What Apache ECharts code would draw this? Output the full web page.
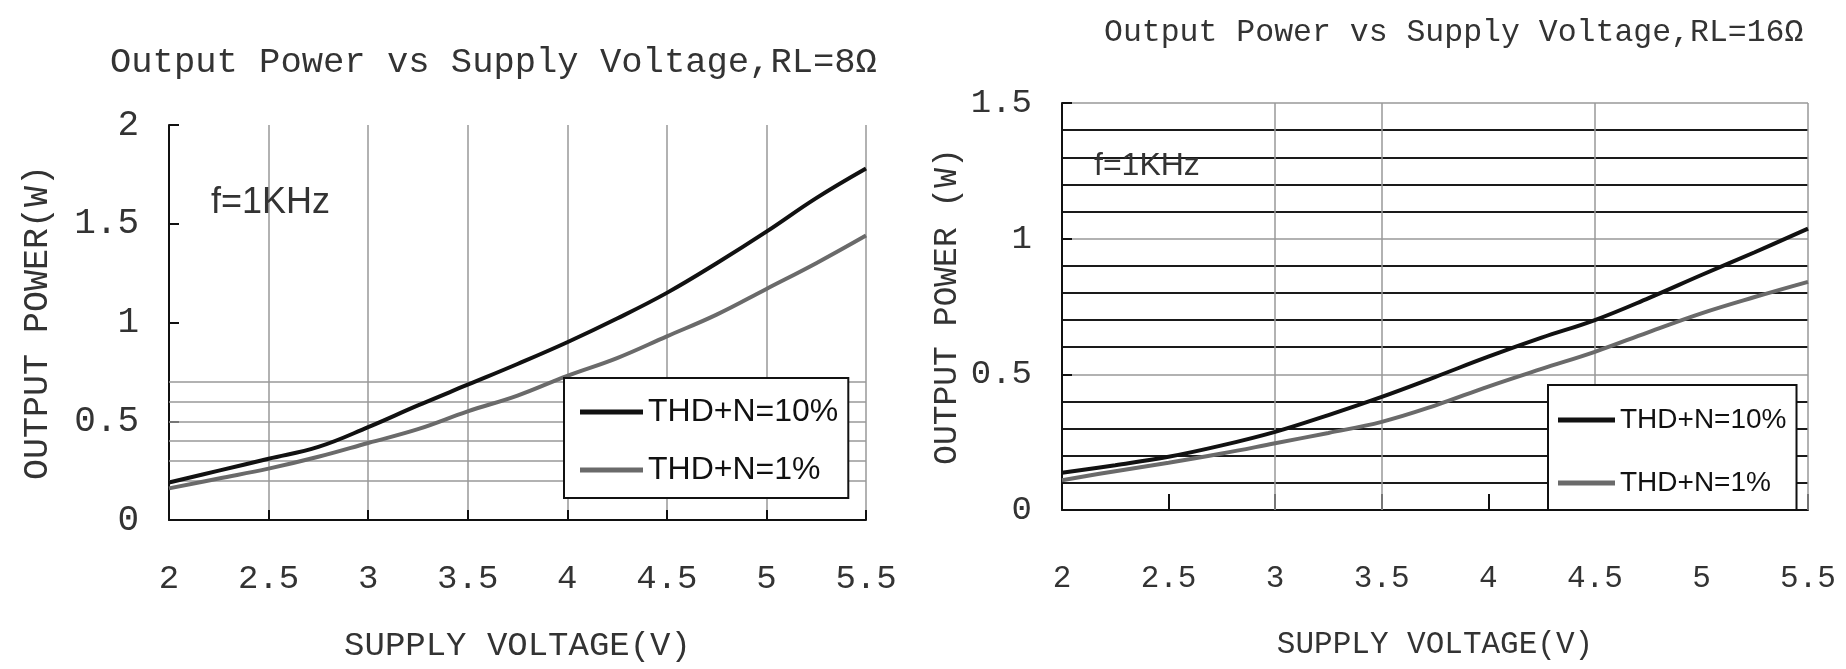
<!DOCTYPE html>
<html>
<head>
<meta charset="utf-8">
<script src="https://cdn.jsdelivr.net/npm/echarts@6/dist/echarts.min.js"></script>
<style>
html, body { margin: 0; padding: 0; background: #fff; }
#main { width: 1846px; height: 669px; }
</style>
</head>
<body>
<div id="main"></div>
<script>
// 数据：电源电压 (V) 与输出功率 (W)
const volts = [2, 2.25, 2.5, 2.75, 3, 3.25, 3.5, 3.75, 4, 4.25, 4.5, 4.75, 5, 5.25, 5.5];
// RL = 8Ω
const rl8Thd10 = [0.19, 0.25, 0.31, 0.37, 0.47, 0.58, 0.685, 0.79, 0.90, 1.02, 1.15, 1.30, 1.46, 1.63, 1.78];
const rl8Thd1 = [0.16, 0.21, 0.26, 0.32, 0.39, 0.46, 0.55, 0.63, 0.73, 0.82, 0.93, 1.04, 1.17, 1.30, 1.44];
// RL = 16Ω
const rl16Thd10 = [0.137, 0.165, 0.196, 0.238, 0.288, 0.35, 0.417, 0.49, 0.565, 0.635, 0.70, 0.78, 0.866, 0.95, 1.037];
const rl16Thd1 = [0.11, 0.143, 0.174, 0.208, 0.246, 0.284, 0.325, 0.385, 0.455, 0.52, 0.583, 0.655, 0.725, 0.785, 0.841];
// 图中额外的网格线
const rl8GridY = [0.2, 0.3, 0.4, 0.5, 0.6, 0.7];
const rl16GridX = [3, 3.5, 4.5, 5.5];

const seriesNames = ['THD+N=10%', 'THD+N=1%'];
const titles = ['Output Power vs Supply Voltage,RL=8Ω', 'Output Power vs Supply Voltage,RL=16Ω'];
const note = 'f=1KHz';
const xName = 'SUPPLY VOLTAGE(V)';
const yNames = ['OUTPUT POWER(W)', 'OUTPUT POWER (W)'];

const MONO = "'Liberation Mono', 'DejaVu Sans Mono', monospace";
const SANS = "'Liberation Sans', Arial, sans-serif";
const TXT = '#333';

function pairs(ys) {
    return volts.map((v, i) => [v, ys[i]]);
}

let mycharts = echarts.init(document.getElementById('main'));

function xAxis(gridIndex, fs, labelMargin, nameGap, split) {
    return {
        type: 'value', gridIndex: gridIndex,
        min: 2, max: 5.5, interval: 0.5,
        name: xName, nameLocation: 'middle', nameGap: nameGap,
        nameTextStyle: { fontFamily: MONO, fontSize: fs, color: TXT },
        axisLine: { lineStyle: { color: '#111', width: 2 } },
        axisTick: { inside: true, length: gridIndex === 1 ? 16 : 10, lineStyle: { color: '#111', width: 2 } },
        axisLabel: { fontFamily: MONO, fontSize: fs, color: TXT, margin: labelMargin },
        splitLine: { show: split, lineStyle: { color: '#999', width: 1.5 } }
    };
}

let option = {
    backgroundColor: '#fff',
    animation: false,
    title: [
        { text: titles[0], left: 105, top: 40, textStyle: { fontFamily: MONO, fontSize: 35.5, fontWeight: 'normal', color: TXT } },
        { text: titles[1], left: 1099, top: 12, textStyle: { fontFamily: MONO, fontSize: 31.5, fontWeight: 'normal', color: TXT } },
        { text: note, left: 206, top: 180, textStyle: { fontFamily: SANS, fontSize: 36, fontWeight: 'normal', color: TXT } },
        { text: note, left: 1089, top: 145, textStyle: { fontFamily: SANS, fontSize: 32, fontWeight: 'normal', color: TXT } }
    ],
    legend: [
        {
            data: seriesNames, orient: 'vertical', left: 564, top: 378,
            backgroundColor: '#fff', borderColor: '#111', borderWidth: 2,
            padding: [16, 10, 10, 16], itemGap: 22,
            icon: 'rect', itemWidth: 63, itemHeight: 5,
            textStyle: { fontFamily: SANS, fontSize: 32, color: '#111', lineHeight: 36 }
        },
        {
            data: seriesNames, orient: 'vertical', left: 1548, top: 385,
            backgroundColor: '#fff', borderColor: '#111', borderWidth: 2,
            padding: [18, 10, 10, 10], itemGap: 29,
            icon: 'rect', itemWidth: 57, itemHeight: 5,
            textStyle: { fontFamily: SANS, fontSize: 28, color: '#111', lineHeight: 34 }
        }
    ],
    grid: [
        { left: 169, right: 980, top: 125, bottom: 149 },
        { left: 1062, right: 38, top: 103, bottom: 159 }
    ],
    xAxis: [
        xAxis(0, 34, 42, 109, true),
        xAxis(1, 31, 53, 119, false)
    ],
    yAxis: [
        {
            type: 'value', gridIndex: 0, min: 0, max: 2, interval: 0.5,
            name: yNames[0], nameLocation: 'middle', nameGap: 114,
            nameTextStyle: { fontFamily: MONO, fontSize: 35, color: TXT },
            axisLine: { show: true, lineStyle: { color: '#111', width: 2 } },
            axisTick: { show: true, inside: true, length: 10, lineStyle: { color: '#111', width: 2 } },
            axisLabel: { fontFamily: MONO, fontSize: 36, color: TXT, margin: 30 },
            splitLine: { show: false }
        },
        {
            type: 'value', gridIndex: 1, min: 0, max: 1.5, interval: 0.5,
            name: yNames[1], nameLocation: 'middle', nameGap: 98,
            nameTextStyle: { fontFamily: MONO, fontSize: 33, color: TXT },
            axisLine: { show: true, lineStyle: { color: '#111', width: 2 } },
            axisTick: { show: true, inside: true, length: 10, lineStyle: { color: '#111', width: 2 } },
            axisLabel: { fontFamily: MONO, fontSize: 34, color: TXT, margin: 30 },
            splitLine: { show: true, lineStyle: { color: '#999', width: 1.5 } },
            minorTick: { show: false, splitNumber: 5 },
            minorSplitLine: { show: true, lineStyle: { color: '#1a1a1a', width: 2 } }
        }
    ],
    series: [
        {
            name: seriesNames[0], type: 'line', xAxisIndex: 0, yAxisIndex: 0,
            data: pairs(rl8Thd10), smooth: 0.4, symbol: 'none',
            lineStyle: { color: '#111', width: 4 }, itemStyle: { color: '#111' },
            markLine: {
                z: 1, silent: true, symbol: ['none', 'none'], label: { show: false },
                lineStyle: { color: '#999', width: 1.5, type: 'solid' },
                data: rl8GridY.map(v => ({ yAxis: v }))
            }
        },
        {
            name: seriesNames[1], type: 'line', xAxisIndex: 0, yAxisIndex: 0,
            data: pairs(rl8Thd1), smooth: 0.4, symbol: 'none',
            lineStyle: { color: '#6a6a6a', width: 4 }, itemStyle: { color: '#6a6a6a' }
        },
        {
            name: seriesNames[0], type: 'line', xAxisIndex: 1, yAxisIndex: 1,
            data: pairs(rl16Thd10), smooth: 0.4, symbol: 'none',
            lineStyle: { color: '#111', width: 4 }, itemStyle: { color: '#111' },
            markLine: {
                z: 1, silent: true, symbol: ['none', 'none'], label: { show: false },
                lineStyle: { color: '#999', width: 1.5, type: 'solid' },
                data: rl16GridX.map(v => ({ xAxis: v }))
            }
        },
        {
            name: seriesNames[1], type: 'line', xAxisIndex: 1, yAxisIndex: 1,
            data: pairs(rl16Thd1), smooth: 0.4, symbol: 'none',
            lineStyle: { color: '#6a6a6a', width: 4 }, itemStyle: { color: '#6a6a6a' }
        }
    ]
};
mycharts.setOption(option, true);
window.addEventListener('resize', () => mycharts.resize());
</script>
</body>
</html>
